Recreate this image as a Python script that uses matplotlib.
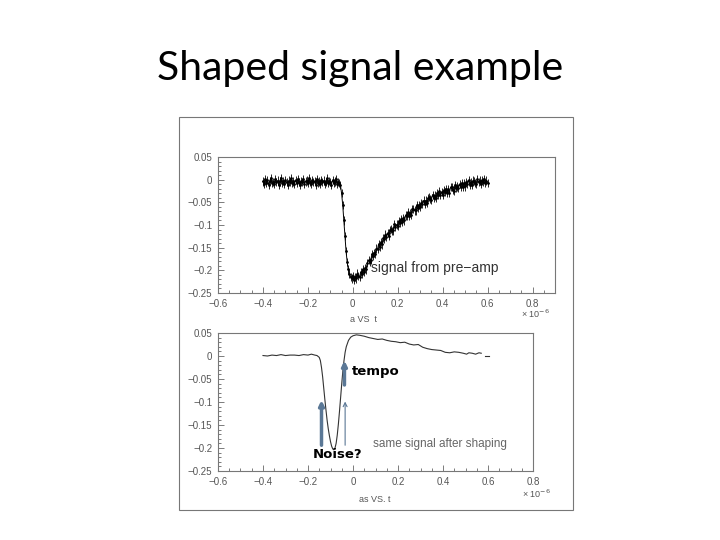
import matplotlib.pyplot as plt
from matplotlib.ticker import MultipleLocator, FuncFormatter

# ------------------------------------
# data (time in 1e-6 s, amplitude in V)
# ------------------------------------
# pre-amp signal (noisy trace, 5 ns samples)
top_t = [
    -0.400, -0.395, -0.390, -0.385, -0.380, -0.375, -0.370, -0.365, -0.360, -0.355,
    -0.350, -0.345, -0.340, -0.335, -0.330, -0.325, -0.320, -0.315, -0.310, -0.305,
    -0.300, -0.295, -0.290, -0.285, -0.280, -0.275, -0.270, -0.265, -0.260, -0.255,
    -0.250, -0.245, -0.240, -0.235, -0.230, -0.225, -0.220, -0.215, -0.210, -0.205,
    -0.200, -0.195, -0.190, -0.185, -0.180, -0.175, -0.170, -0.165, -0.160, -0.155,
    -0.150, -0.145, -0.140, -0.135, -0.130, -0.125, -0.120, -0.115, -0.110, -0.105,
    -0.100, -0.095, -0.090, -0.085, -0.080, -0.075, -0.070, -0.065, -0.060,
    -0.055, -0.050, -0.045, -0.040, -0.035, -0.030, -0.025, -0.020, -0.015, -0.010, -0.005,
    0.000, 0.005, 0.010, 0.015, 0.020, 0.025, 0.030, 0.035, 0.040, 0.045,
    0.050, 0.055, 0.060, 0.065, 0.070, 0.075, 0.080, 0.085, 0.090, 0.095,
    0.100, 0.105, 0.110, 0.115, 0.120, 0.125, 0.130, 0.135, 0.140, 0.145,
    0.150, 0.155, 0.160, 0.165, 0.170, 0.175, 0.180, 0.185, 0.190, 0.195,
    0.200, 0.205, 0.210, 0.215, 0.220, 0.225, 0.230, 0.235, 0.240, 0.245,
    0.250, 0.255, 0.260, 0.265, 0.270, 0.275, 0.280, 0.285, 0.290, 0.295,
    0.300, 0.305, 0.310, 0.315, 0.320, 0.325, 0.330, 0.335, 0.340, 0.345,
    0.350, 0.355, 0.360, 0.365, 0.370, 0.375, 0.380, 0.385, 0.390, 0.395,
    0.400, 0.405, 0.410, 0.415, 0.420, 0.425, 0.430, 0.435, 0.440, 0.445,
    0.450, 0.455, 0.460, 0.465, 0.470, 0.475, 0.480, 0.485, 0.490, 0.495,
    0.500, 0.505, 0.510, 0.515, 0.520, 0.525, 0.530, 0.535, 0.540, 0.545,
    0.550, 0.555, 0.560, 0.565, 0.570, 0.575, 0.580, 0.585, 0.590, 0.595,
    0.600,
]
top_a = [
    -0.004, -0.009, 0.002, -0.007, -0.001, -0.011, -0.003, 0.003, -0.008, -0.005,
    -0.010, 0.001, -0.006, -0.002, -0.012, -0.004, 0.004, -0.007, -0.003, -0.009,
    0.000, -0.006, -0.011, -0.002, -0.005, 0.003, -0.008, -0.004, -0.010, -0.001,
    -0.007, 0.002, -0.005, -0.012, -0.003, -0.006, 0.001, -0.009, -0.004, -0.002,
    -0.008, 0.004, -0.006, -0.010, -0.001, -0.005, -0.003, -0.011, 0.002, -0.007,
    -0.004, -0.009, 0.000, -0.006, -0.002, -0.010, -0.005, 0.003, -0.008, -0.003,
    -0.006, -0.011, -0.001, -0.007, -0.004, 0.001, -0.009, -0.005, -0.008,
    -0.012, -0.030, -0.055, -0.090, -0.125, -0.158, -0.182, -0.198, -0.207, -0.214, -0.218,
    -0.212, -0.222, -0.214, -0.218, -0.207, -0.212, -0.215, -0.204, -0.207, -0.198,
    -0.203, -0.194, -0.198, -0.184, -0.178, -0.181, -0.178, -0.164, -0.169, -0.161,
    -0.164, -0.152, -0.153, -0.142, -0.148, -0.138, -0.143, -0.129, -0.130, -0.121,
    -0.127, -0.118, -0.124, -0.111, -0.109, -0.113, -0.112, -0.098, -0.105, -0.099,
    -0.102, -0.091, -0.096, -0.086, -0.094, -0.085, -0.090, -0.079, -0.081, -0.072,
    -0.080, -0.073, -0.077, -0.065, -0.065, -0.068, -0.068, -0.056, -0.062, -0.056,
    -0.061, -0.051, -0.054, -0.046, -0.053, -0.046, -0.052, -0.041, -0.038, -0.043,
    -0.044, -0.033, -0.040, -0.035, -0.040, -0.029, -0.034, -0.026, -0.034, -0.027,
    -0.034, -0.023, -0.027, -0.020, -0.029, -0.021, -0.029, -0.017, -0.017, -0.022,
    -0.024, -0.011, -0.019, -0.015, -0.019, -0.010, -0.016, -0.007, -0.016, -0.008,
    -0.015, -0.005, -0.009, -0.001, -0.011, -0.005, -0.012, -0.002, -0.003, -0.008,
    -0.010, 0.001, -0.006, -0.002, -0.009, -0.001, -0.005, 0.002, -0.007, -0.002,
    -0.008,
]
top_err = 0.009

# same signal after shaping
bot_t = [-0.400, -0.380, -0.360, -0.340, -0.320, -0.300, -0.280, -0.260, -0.240, -0.220,
         -0.200, -0.185, -0.170, -0.160, -0.150, -0.145, -0.140, -0.135, -0.130, -0.125,
         -0.120, -0.115, -0.110, -0.105, -0.100, -0.095, -0.090, -0.085, -0.080, -0.075,
         -0.070, -0.065, -0.060, -0.055, -0.050, -0.045, -0.040, -0.035, -0.030, -0.020,
         -0.010, 0.000, 0.015, 0.030, 0.050, 0.070, 0.090, 0.110, 0.130, 0.150,
         0.170, 0.190, 0.210, 0.230, 0.250, 0.270, 0.290, 0.310, 0.330, 0.350,
         0.370, 0.390, 0.410, 0.430, 0.450, 0.470, 0.490, 0.505, 0.515, 0.530,
         0.545, 0.560, 0.570]
bot_a = [0.001, 0.000, 0.002, 0.001, 0.003, 0.001, 0.002, 0.002, 0.001, 0.003,
         0.002, 0.004, 0.002, 0.001, -0.003, -0.010, -0.025, -0.045, -0.070, -0.095,
         -0.118, -0.140, -0.158, -0.173, -0.186, -0.196, -0.202, -0.204, -0.200, -0.190,
         -0.172, -0.148, -0.120, -0.090, -0.060, -0.032, -0.010, 0.008, 0.020, 0.034,
         0.041, 0.044, 0.046, 0.045, 0.043, 0.040, 0.038, 0.036, 0.037, 0.034,
         0.032, 0.031, 0.029, 0.030, 0.026, 0.024, 0.025, 0.019, 0.016, 0.014,
         0.013, 0.012, 0.008, 0.007, 0.009, 0.008, 0.006, 0.004, 0.007, 0.006,
         0.004, 0.007, 0.006]
tail_t = [0.585, 0.605]
tail_a = [0.000, 0.000]

arrow_col = "#5b7896"
ink = "#555555"

fig = plt.figure(figsize=(7.2, 5.4), dpi=100)
fig.text(0.5, 0.874, "Shaped signal example", ha="center", va="center",
         fontsize=29.5, family="Lato", color="black")

# frame of the pasted picture
fig.add_artist(plt.Rectangle((179 / 720, 1 - 510 / 540), 394 / 720, 393 / 540,
                             transform=fig.transFigure, fill=False,
                             ec="#777777", lw=0.8))

ax1 = fig.add_axes([218 / 720, 1 - 293 / 540, 337 / 720, 136 / 540])
ax2 = fig.add_axes([218 / 720, 1 - 471 / 540, 315 / 720, 138 / 540])


def fmt(v, pos):
    s = "{:g}".format(round(v, 3))
    return s.replace("-", "\u2212")


def root_style(ax, xmax):
    ax.set_xlim(-0.6, xmax)
    ax.set_ylim(-0.25, 0.05)
    ax.xaxis.set_major_locator(MultipleLocator(0.2))
    ax.xaxis.set_minor_locator(MultipleLocator(0.05))
    ax.yaxis.set_major_locator(MultipleLocator(0.05))
    ax.yaxis.set_minor_locator(MultipleLocator(0.01))
    ax.xaxis.set_major_formatter(FuncFormatter(fmt))
    ax.yaxis.set_major_formatter(FuncFormatter(fmt))
    ax.tick_params(which="both", direction="in", top=False, right=False,
                   color="#666666", width=0.6)
    ax.tick_params(which="major", length=4, labelsize=7, labelcolor=ink, pad=4)
    ax.tick_params(which="minor", length=2)
    for lab in ax.get_xticklabels() + ax.get_yticklabels():
        lab.set_family("Liberation Sans")
    for sp in ax.spines.values():
        sp.set_color("#777777")
        sp.set_linewidth(0.8)


root_style(ax1, 0.9)
root_style(ax2, 0.8)

# pre-amp signal
ax1.errorbar(top_t, top_a, yerr=top_err, fmt="none", ecolor="black",
             elinewidth=0.6)
ax1.plot(top_t, top_a, color="black", lw=0.7, marker=".", ms=2)
ax1.text(0.08, -0.195, "signal from pre\u2212amp", fontsize=10,
         family="Liberation Sans", color="#333333", va="center")

# shaped signal
ax2.plot(bot_t, bot_a, color="#333333", lw=0.8)
ax2.plot(tail_t, tail_a, color="#333333", lw=0.8)
ax2.text(0.089, -0.191, "same signal after shaping", fontsize=8.5,
         family="Liberation Sans", color="#666666", va="center")

# annotations
ax2.annotate("", xy=(-0.140, -0.096), xytext=(-0.140, -0.194),
             arrowprops=dict(arrowstyle="-|>", lw=2.5, color=arrow_col,
                             mutation_scale=7, shrinkA=0, shrinkB=0))
ax2.annotate("", xy=(-0.035, -0.099), xytext=(-0.035, -0.194),
             arrowprops=dict(arrowstyle="->", lw=0.8, color=arrow_col,
                             mutation_scale=7, shrinkA=0, shrinkB=0))
ax2.annotate("", xy=(-0.038, -0.010), xytext=(-0.038, -0.063),
             arrowprops=dict(arrowstyle="-|>", lw=2.5, color=arrow_col,
                             mutation_scale=7, shrinkA=0, shrinkB=0))
ax2.text(-0.004, -0.033, "tempo", fontsize=9.5, family="DejaVu Sans",
         fontweight="bold", color="black", va="center")
ax2.text(-0.177, -0.215, "Noise?", fontsize=9.5, family="DejaVu Sans",
         fontweight="bold", color="black", va="center")

# axis captions written by the plotting program
fig.text(364 / 720, 1 - 319 / 540, "a VS  t", fontsize=6.5, family="Liberation Sans",
         color=ink, ha="center", va="center")
fig.text(375 / 720, 1 - 499 / 540, "as VS. t", fontsize=6.5, family="Liberation Sans",
         color=ink, ha="center", va="center")
fig.text(521 / 720, 1 - 308 / 540, "\u00d7 10$^{\u22126}$", fontsize=6.5,
         family="Liberation Sans", color=ink, va="top")
fig.text(522 / 720, 1 - 488 / 540, "\u00d7 10$^{\u22126}$", fontsize=6.5,
         family="Liberation Sans", color=ink, va="top")

fig.savefig("out.png", dpi=100)
